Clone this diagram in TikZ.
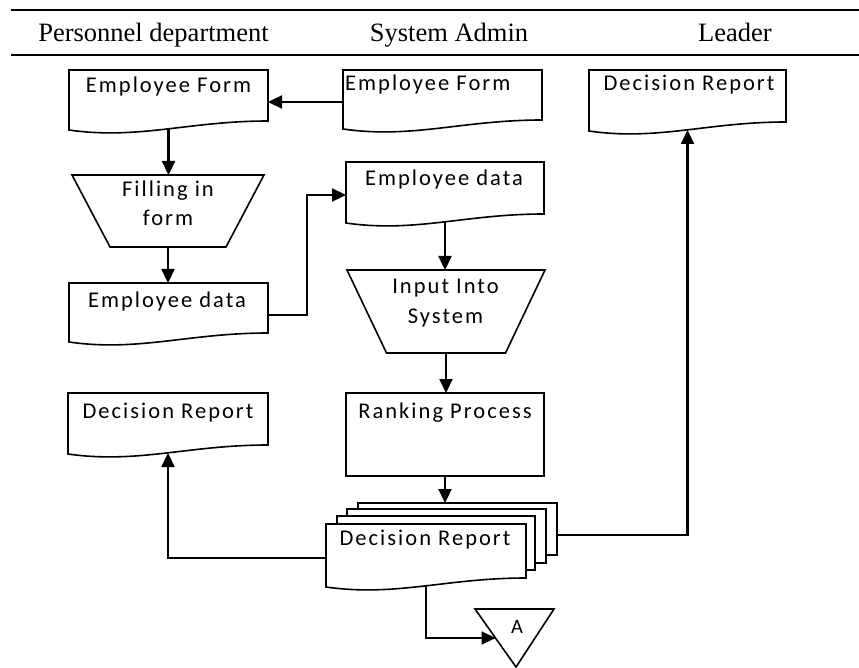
\documentclass[tikz,border=0pt]{standalone}
\usepackage{fontspec}
\newfontfamily\boxfont[LetterSpace=9]{Carlito}
\newfontfamily\markfont{Carlito}
\newfontfamily\headfont{Liberation Serif}
\usetikzlibrary{arrows.meta,calc,fit}

\tikzset{
  shp/.style={draw=black, line width=1.6pt, fill=white},
  area/.style={draw=none, inner sep=0pt, outer sep=0pt, rectangle},
  procbox/.style={shp, inner sep=0pt, outer sep=0pt, rectangle},
  txt/.style={inner sep=0pt, font=\boxfont\fontsize{22.5}{29}\selectfont, anchor=base, align=center},
  hdr/.style={inner sep=0pt, font=\headfont\fontsize{26.5}{30}\selectfont, anchor=base},
  link/.style={line width=2.2pt, -{Triangle[length=14pt,width=13pt]}},
  rule/.style={line width=2.4pt},
}

% document symbol: straight top and sides, wavy bottom edge
\newcommand\docoutline[1]{%
  \draw[shp] (#1.north west) -- (#1.north east) -- ([yshift=9pt]#1.south east)
    .. controls ($(#1.south west)!0.6!(#1.south east)+(0,9pt)$)
    and ($(#1.south west)!0.35!(#1.south east)+(0,-10pt)$) .. (#1.south west) -- cycle;}
% manual operation symbol: wide top, narrower bottom
\newcommand\trapoutline[2]{%
  \draw[shp] (#1.north west) -- (#1.north east) -- ([xshift=-#2pt]#1.south east)
    -- ([xshift=#2pt]#1.south west) -- cycle;}

\begin{document}
\begin{tikzpicture}[x=1pt,y=-1pt]
\useasboundingbox (0,0) rectangle (859,668);

% swimlane header
\coordinate (r1a) at (11,10);  \coordinate (r1b) at (859,10);
\coordinate (r2a) at (11,55);  \coordinate (r2b) at (859,55);
\draw[rule] (r1a) -- (r1b);
\draw[rule] (r2a) -- (r2b);
\node[hdr] (h1) at (153.5,42) {Personnel department};
\node[hdr] (h2) at (449,42) {System Admin};
\node[hdr] (h3) at (735,42) {Leader};

% document symbols
\node[area, fit={(69,70) (268,130)}] (ef1) {};
\node[area, fit={(343,70) (542,129)}] (ef2) {};
\node[area, fit={(589,70) (786,131)}] (dr3) {};
\node[area, fit={(346,162) (544,223)}] (ed2) {};
\node[area, fit={(69,283) (268,342)}] (ed1) {};
\node[area, fit={(68,393) (268,454)}] (dr1) {};
\docoutline{ef1}
\docoutline{ef2}
\docoutline{dr3}
\docoutline{ed2}
\docoutline{ed1}
\docoutline{dr1}

% manual operations
\node[area, fit={(72,175) (264,247)}] (tr1) {};
\node[area, fit={(347,270) (545,353)}] (tr2) {};
\trapoutline{tr1}{38}
\trapoutline{tr2}{39.5}

% process
\node[procbox, fit={(346,393) (544,476)}] (rp) {};

% stacked multi-document
\node[procbox, fit={(358,503) (557,555)}] (sb) {};
\node[procbox, fit={(347,509) (546,563)}] (s2) {};
\node[procbox, fit={(337,516) (535,570)}] (s3) {};
\node[area, fit={(326,524) (526,587)}] (sf) {};
\docoutline{sf}

% off-page connector
\coordinate (tl) at (475,609);
\coordinate (tr) at (554,609);
\coordinate (tb) at (516,667);
\draw[shp] (tl) -- (tr) -- (tb) -- cycle;
\coordinate (tin) at ($(tl)!0.5!(tb)$);
\node[inner sep=0pt, anchor=base, font=\markfont\fontsize{20.5}{24}\selectfont] (ta) at (517,633) {A};

% labels
\node[txt] (lef1) at (168.5,93) {Employee Form};
\node[txt, anchor=base west] (lef2) at (345,91) {Employee Form};
\node[txt] (ldr3) at (689,91) {Decision Report};
\node[txt] (led2) at (444,186) {Employee data};
\node[txt] (led1) at (167,307) {Employee data};
\node[txt] (lrp) at (445,418) {Ranking Process};
\node[txt] (ldr1) at (168,418) {Decision Report};
\node[txt] (lsf) at (425,545) {Decision Report};
\node[txt] (ltr1) at (168,226) {Filling in\\form};
\node[txt] (ltr2) at (445.5,323) {Input Into\\System};

% connectors
\coordinate (a1) at ([yshift=-2.5pt]ef2.west);
\draw[link] (a1) -- (a1 -| ef1.east);
\draw[link] ([yshift=1pt]ef1.south) -- (ef1.south |- tr1.north);
\draw[link] (tr1.south) -- (tr1.south |- ed1.north);
\coordinate (d1) at ([yshift=-2.5pt]ed1.east);
\coordinate (d2) at ([yshift=-2.5pt]ed2.west);
\draw[link] (d1) -- ++(39,0) |- (d2);
\draw[link] ([yshift=1pt]ed2.south) -- (ed2.south |- tr2.north);
\draw[link] (tr2.south) -- (tr2.south |- rp.north);
\draw[link] (rp.south) -- (rp.south |- sb.north);
\coordinate (hh) at ([yshift=-2.5pt]sf.west);
\draw[link] (hh) -| ([yshift=1pt]dr1.south);
\coordinate (ii) at ([yshift=-6pt]sb.east);
\draw[link] (ii) -| ([yshift=1pt]dr3.south);
\draw[link] ([yshift=1pt]sf.south) |- (tin);
\end{tikzpicture}
\end{document}
